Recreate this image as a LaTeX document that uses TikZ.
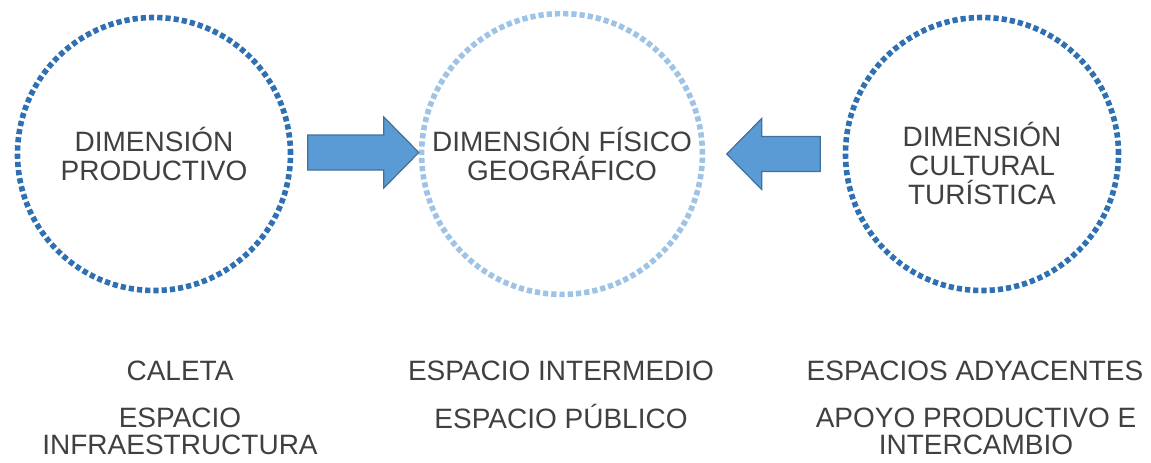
\documentclass[tikz,border=0pt]{standalone}
\usepackage{fontspec}
\setmainfont{Liberation Sans}
\usetikzlibrary{positioning,calc}
\definecolor{azuloscuro}{RGB}{46,112,178}
\definecolor{azulclaro}{RGB}{157,195,230}
\definecolor{flechaazul}{RGB}{91,155,213}
\definecolor{bordeflecha}{RGB}{65,113,156}
\definecolor{texto}{RGB}{64,64,64}
\tikzset{
  dimcirc/.style={circle,minimum size=136.5pt,line width=2.8pt,
    dash pattern=on 2.6pt off 1.52pt,align=center,text=texto,
    font=\fontsize{14}{14.5}\selectfont},
  flecha/.style={fill=flechaazul,draw=bordeflecha,line width=0.6pt,line join=miter},
  etiqueta/.style={align=center,text=texto,font=\fontsize{14}{13.5}\selectfont}
}

\begin{document}
\begin{tikzpicture}[x=0.5pt,y=-0.5pt]
  \useasboundingbox (0,0) rectangle (1151,462);
  \def\bw{17.5} \def\hw{35.5} \def\hl{35}
  % circulos
  \node[dimcirc,draw=azuloscuro] (prod) at (154,154) {DIMENSIÓN\\PRODUCTIVO};
  \node[dimcirc,draw=azulclaro] (fis) at (562,154) {DIMENSIÓN FÍSICO\\GEOGRÁFICO};
  \node[dimcirc,draw=azuloscuro,
    label={[etiqueta,font=\fontsize{14}{14.5}\selectfont,yshift=-4.5pt]center:DIMENSIÓN\\CULTURAL\\TURÍSTICA}] (cul) at (982,154) {};
  % flechas
  \coordinate (t1) at ($(prod.east)+(14.5,-1.5)$);
  \coordinate (p1) at ($(fis.west)+(0,-1.5)$);
  \coordinate (t2) at ($(cul.west)+(-22.5,0)$);
  \coordinate (p2) at ($(fis.east)+(21.5,0)$);
  \draw[flecha] ($(t1)+(0,-\bw)$) -- ($(p1)+(-\hl,-\bw)$) -- ($(p1)+(-\hl,-\hw)$)
    -- (p1) -- ($(p1)+(-\hl,\hw)$) -- ($(p1)+(-\hl,\bw)$) -- ($(t1)+(0,\bw)$) -- cycle;
  \draw[flecha] ($(t2)+(0,-\bw)$) -- ($(p2)+(\hl,-\bw)$) -- ($(p2)+(\hl,-\hw)$)
    -- (p2) -- ($(p2)+(\hl,\hw)$) -- ($(p2)+(\hl,\bw)$) -- ($(t2)+(0,\bw)$) -- cycle;
  % textos inferiores
  \node[etiqueta] (caleta) at (180,371) {CALETA};
  \node[etiqueta] (espinf) at (180,431.5) {ESPACIO\\INFRAESTRUCTURA};
  \node[etiqueta] (intermedio) at (561,371) {ESPACIO INTERMEDIO};
  \node[etiqueta] (publico) at (561,416) {ESPACIO PÚBLICO};
  \node[etiqueta] (adyacentes) at (975,371) {ESPACIOS ADYACENTES};
  \node[etiqueta] (apoyo) at (976,431.5) {APOYO PRODUCTIVO E\\INTERCAMBIO};
\end{tikzpicture}
\end{document}
